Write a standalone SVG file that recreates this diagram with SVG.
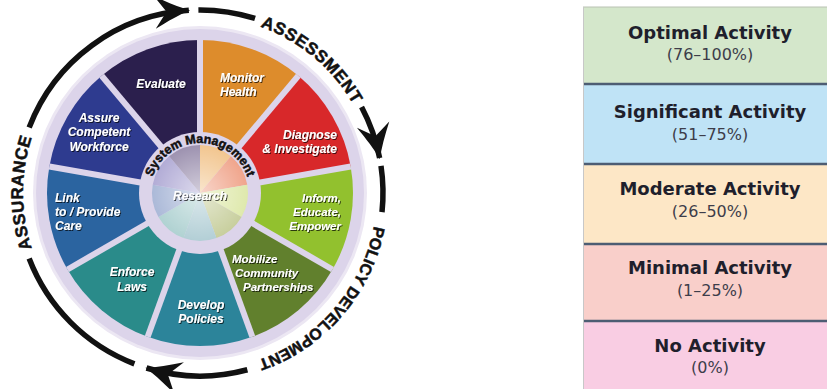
<svg xmlns="http://www.w3.org/2000/svg" width="827" height="389" viewBox="0 0 827 389">
<style>
.lbl{font-family:"Liberation Sans",Arial,sans-serif;font-weight:bold;font-style:italic;font-size:12px;fill:#fff;filter:url(#sh)}
.sm{font-size:11.5px}
.ring{font-family:"Liberation Sans",Arial,sans-serif;font-weight:bold;fill:#111;stroke:#111;stroke-width:0.5}
.arc{fill:none;stroke:#111;stroke-width:5.5}
.sep{stroke:#dcd4ea;stroke-width:6}
.lt{font-family:"DejaVu Sans",sans-serif;font-weight:bold;font-size:18px;fill:#1f1f2c;text-anchor:middle}
.ls{font-family:"DejaVu Sans",sans-serif;font-size:16px;fill:#3d3d4a;text-anchor:middle}
.div{stroke:#4d5d73;stroke-width:2.5}
</style>
<defs>
<filter id="sh" x="-20%" y="-30%" width="140%" height="160%"><feDropShadow dx="1" dy="1" stdDeviation="0.6" flood-color="#000" flood-opacity="0.7"/></filter>
<radialGradient id="glow" cx="0.5" cy="0.5" r="0.5"><stop offset="0" stop-color="#fff" stop-opacity="0.55"/><stop offset="1" stop-color="#fff" stop-opacity="0"/></radialGradient>
<marker id="arr" markerUnits="userSpaceOnUse" markerWidth="40" markerHeight="40" viewBox="-32 -16 34 32" refX="0" refY="0" orient="auto"><path d="M1,0 C-8,-3 -18,-8 -29,-14 L-19,0 L-29,14 C-18,8 -8,3 1,0 Z" fill="#111"/></marker>
<path id="ringPath" d="M200,16 A177,177 0 1,1 200,370 A177,177 0 1,1 200,16"/>
<path id="smPath" d="M200,243 A50,50 0 1,1 200,143 A50,50 0 1,1 200,243"/>
</defs>
<rect width="827" height="389" fill="#fff"/>

<g id="wheel">
<circle cx="200" cy="193" r="167" fill="#ece7f3"/>
<circle cx="200" cy="193" r="164" fill="#dcd4ea"/>
<g id="seg-monitor"><path d="M200,193 L200,40 A153,153 0 0 1 298.35,75.8 Z" fill="#dd8c2c"/>
<text class="lbl" x="220" y="82">Monitor</text><text class="lbl" x="220" y="96">Health</text></g>
<g id="seg-diagnose"><path d="M200,193 L298.35,75.8 A153,153 0 0 1 350.67,166.44 Z" fill="#d8282a"/>
<text class="lbl" x="337" y="139" text-anchor="end">Diagnose</text><text class="lbl" x="337" y="153" text-anchor="end">&amp; Investigate</text></g>
<g id="seg-inform"><path d="M200,193 L350.67,166.44 A153,153 0 0 1 332.5,269.5 Z" fill="#92c12e"/>
<text class="lbl sm" x="341" y="202" text-anchor="end">Inform,</text><text class="lbl sm" x="341" y="216" text-anchor="end">Educate,</text><text class="lbl sm" x="341" y="230" text-anchor="end">Empower</text></g>
<g id="seg-mobilize"><path d="M200,193 L332.5,269.5 A153,153 0 0 1 252.33,336.77 Z" fill="#61802d"/>
<text class="lbl sm" x="232" y="263">Mobilize</text><text class="lbl sm" x="235" y="277">Community</text><text class="lbl sm" x="243" y="291">Partnerships</text></g>
<g id="seg-develop"><path d="M200,193 L252.33,336.77 A153,153 0 0 1 147.67,336.77 Z" fill="#2c849a"/>
<text class="lbl" x="201" y="309" text-anchor="middle">Develop</text><text class="lbl" x="201" y="323" text-anchor="middle">Policies</text></g>
<g id="seg-enforce"><path d="M200,193 L147.67,336.77 A153,153 0 0 1 67.5,269.5 Z" fill="#2a8b8a"/>
<text class="lbl" x="132" y="276" text-anchor="middle">Enforce</text><text class="lbl" x="132" y="291" text-anchor="middle">Laws</text></g>
<g id="seg-link"><path d="M200,193 L67.5,269.5 A153,153 0 0 1 49.33,166.44 Z" fill="#2b64a0"/>
<text class="lbl" x="55" y="202">Link</text><text class="lbl" x="55" y="216">to / Provide</text><text class="lbl" x="55" y="230">Care</text></g>
<g id="seg-assure"><path d="M200,193 L49.33,166.44 A153,153 0 0 1 101.65,75.8 Z" fill="#2e3b8f"/>
<text class="lbl" x="99" y="122" text-anchor="middle">Assure</text><text class="lbl" x="99" y="136" text-anchor="middle">Competent</text><text class="lbl" x="99" y="151" text-anchor="middle">Workforce</text></g>
<g id="seg-evaluate"><path d="M200,193 L101.65,75.8 A153,153 0 0 1 200,40 Z" fill="#2b1f4d"/>
<text class="lbl" x="161" y="88" text-anchor="middle">Evaluate</text></g>
<g id="separators">
<line class="sep" x1="200" y1="193" x2="200" y2="40"/>
<line class="sep" x1="200" y1="193" x2="298.35" y2="75.8"/>
<line class="sep" x1="200" y1="193" x2="350.67" y2="166.44"/>
<line class="sep" x1="200" y1="193" x2="332.5" y2="269.5"/>
<line class="sep" x1="200" y1="193" x2="252.33" y2="336.77"/>
<line class="sep" x1="200" y1="193" x2="147.67" y2="336.77"/>
<line class="sep" x1="200" y1="193" x2="67.5" y2="269.5"/>
<line class="sep" x1="200" y1="193" x2="49.33" y2="166.44"/>
<line class="sep" x1="200" y1="193" x2="101.65" y2="75.8"/>
</g>
<g id="center">
<circle cx="200" cy="193" r="61" fill="#dcd4ea"/>
<path d="M200,193 L200,145 A48,48 0 0 1 230.85,156.23 Z" fill="#f2c690"/>
<path d="M200,193 L230.85,156.23 A48,48 0 0 1 247.27,184.67 Z" fill="#f0a58c"/>
<path d="M200,193 L247.27,184.67 A48,48 0 0 1 241.57,217 Z" fill="#dfe9ad"/>
<path d="M200,193 L241.57,217 A48,48 0 0 1 216.42,238.11 Z" fill="#c8cf9e"/>
<path d="M200,193 L216.42,238.11 A48,48 0 0 1 183.58,238.11 Z" fill="#b3cfd6"/>
<path d="M200,193 L183.58,238.11 A48,48 0 0 1 158.43,217 Z" fill="#b0d2d2"/>
<path d="M200,193 L158.43,217 A48,48 0 0 1 152.73,184.67 Z" fill="#abb9d8"/>
<path d="M200,193 L152.73,184.67 A48,48 0 0 1 169.15,156.23 Z" fill="#b2acd6"/>
<path d="M200,193 L169.15,156.23 A48,48 0 0 1 200,145 Z" fill="#9d92b0"/>
<circle cx="200" cy="193" r="48" fill="url(#glow)"/>
<text class="ring" font-size="12.5" stroke-width="0.4"><textPath href="#smPath" startOffset="157" text-anchor="middle">System Management</textPath></text>
<text class="lbl" x="200" y="200" text-anchor="middle">Research</text>
</g>
</g>

<g id="connectors">
<path class="arc" d="M29.15,127.42 A183,183 0 0 1 188.83,10.34" marker-end="url(#arr)"/>
<path class="arc" d="M198.40,10.01 A183,183 0 0 1 255.03,18.47"/>
<path class="arc" d="M361.57,107.08 A183,183 0 0 1 379.63,158.08" marker-end="url(#arr)"/>
<path class="arc" d="M380.99,165.95 A183,183 0 0 1 381.99,212.13"/>
<path class="arc" d="M247.36,369.76 A183,183 0 0 1 146.49,368.00" marker-end="url(#arr)"/>
<path class="arc" d="M134.42,363.85 A183,183 0 0 1 29.15,258.58"/>
</g>

<g id="phase-labels">
<text class="ring" font-size="17" letter-spacing="0.7"><textPath href="#ringPath" startOffset="123.6" text-anchor="middle">ASSESSMENT</textPath></text>
<text class="ring" font-size="16"><textPath href="#ringPath" startOffset="404" text-anchor="middle">POLICY DEVELOPMENT</textPath></text>
<text class="ring" font-size="17" letter-spacing="0.6"><textPath href="#ringPath" startOffset="834.1" text-anchor="middle">ASSURANCE</textPath></text>
</g>

<g id="legend">
<g id="lg-optimal"><rect x="583" y="7" width="250" height="77" fill="#d4e7cb"/>
<text class="lt" x="710" y="39">Optimal Activity</text><text class="ls" x="710" y="60">(76–100%)</text></g>
<g id="lg-significant"><rect x="583" y="84" width="250" height="80" fill="#bfe3f6"/>
<text class="lt" x="710" y="118">Significant Activity</text><text class="ls" x="710" y="140">(51–75%)</text></g>
<g id="lg-moderate"><rect x="583" y="164" width="250" height="80" fill="#fde7c6"/>
<text class="lt" x="710" y="195">Moderate Activity</text><text class="ls" x="710" y="217">(26–50%)</text></g>
<g id="lg-minimal"><rect x="583" y="244" width="250" height="77" fill="#f9cfca"/>
<text class="lt" x="710" y="274">Minimal Activity</text><text class="ls" x="710" y="296">(1–25%)</text></g>
<g id="lg-none"><rect x="583" y="321" width="250" height="68" fill="#f9cde3"/>
<text class="lt" x="710" y="352">No Activity</text><text class="ls" x="710" y="373">(0%)</text></g>
<line class="div" x1="583" y1="84" x2="827" y2="84"/>
<line class="div" x1="583" y1="164" x2="827" y2="164"/>
<line class="div" x1="583" y1="244" x2="827" y2="244"/>
<line class="div" x1="583" y1="321" x2="827" y2="321"/>
<line x1="583" y1="7" x2="827" y2="7" stroke="#b9c2b3" stroke-width="1"/>
<line x1="583.5" y1="7" x2="583.5" y2="389" stroke="#c8c8c8" stroke-width="1"/>
</g>
</svg>
